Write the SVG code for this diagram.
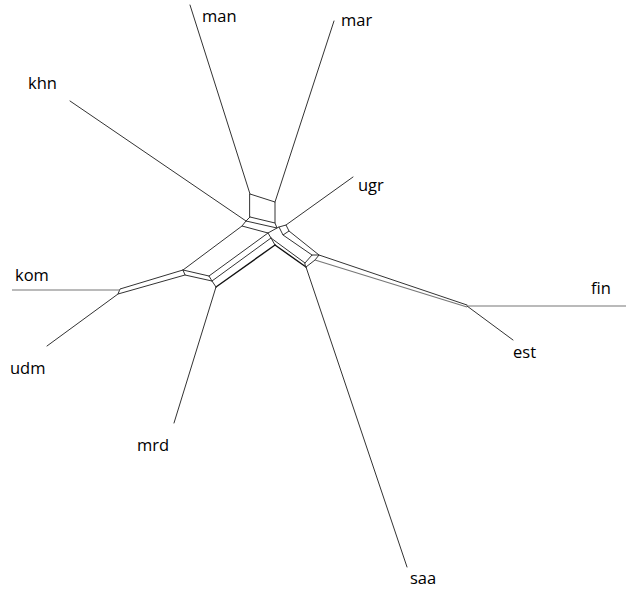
<svg xmlns="http://www.w3.org/2000/svg" width="630" height="595" viewBox="0 0 630 595">
  <style>
    .e { stroke: #333; stroke-width: 1; fill: none; stroke-linecap: round; }
    .d { stroke: #111; stroke-width: 1.4; fill: none; stroke-linecap: round; }
    .g { stroke: #777; stroke-width: 1.2; fill: none; }
    .lbl { font-family: "Open Sans", "Noto Sans", sans-serif; font-size: 16.5px; fill: #000; }
  </style>
  <rect width="630" height="595" fill="#fff"/>

  <!-- network edges -->
  <g id="edges">
    <!-- man / mar box -->
    <path class="e" d="M250,194 L275,202 L275,223 L250,217 Z"/>
    <path class="e" d="M250,217 L246,221 L277,228 L275,223"/>
    <path class="e" d="M246,221 L242,226 L268,233 L277,228"/>
    <!-- ugr diamond -->
    <path class="e" d="M277,228 L279,227 L286,225 L289,231 L283,235 L279,227"/>
    <!-- lower-left band towards kom / udm / mrd -->
    <path class="e" d="M242,226 L183,270"/>
    <path class="e" d="M268,233 L209,276"/>
    <path class="e" d="M271,238 L212,281"/>
    <path class="d" d="M275,245 L216,287"/>
    <path class="e" d="M268,233 L271,238 L275,245"/>
    <path class="e" d="M183,270 L209,276 L212,281 L216,287"/>
    <path class="e" d="M183,270 L185,275 L212,281"/>
    <!-- kom / udm band -->
    <path class="e" d="M183,270 L120,289 L118,294 L185,275"/>
    <!-- band towards saa / fin / est -->
    <path class="e" d="M283,235 L312,255"/>
    <path class="e" d="M289,231 L319,255"/>
    <path class="e" d="M271,238 L305,263"/>
    <path class="d" d="M275,245 L306,267"/>
    <path class="e" d="M305,263 L312,255 L319,255 L315,260 L306,267 Z"/>
    <!-- fin / est band -->
    <path class="e" d="M319,255 L467,305"/>
    <path class="g" d="M315,260 L467,307"/>
  </g>

  <!-- leaves -->
  <g id="man"><path class="e" d="M190,5 L250,194"/><text class="lbl" x="202" y="22">man</text></g>
  <g id="mar"><path class="e" d="M334,21 L275,202"/><text class="lbl" x="341" y="26">mar</text></g>
  <g id="khn"><path class="e" d="M70,101 L246,221"/><text class="lbl" x="28" y="89">khn</text></g>
  <g id="ugr"><path class="e" d="M353,177 L286,225"/><text class="lbl" x="358" y="191">ugr</text></g>
  <g id="kom"><path class="g" d="M12,290 L120,290"/><text class="lbl" x="15" y="281">kom</text></g>
  <g id="udm"><path class="e" d="M47,346 L118,294"/><text class="lbl" x="10" y="374">udm</text></g>
  <g id="mrd"><path class="e" d="M174,423 L216,287"/><text class="lbl" x="137" y="451">mrd</text></g>
  <g id="saa"><path class="e" d="M407,567 L306,267"/><text class="lbl" x="410" y="584">saa</text></g>
  <g id="fin"><path class="g" d="M467,306 L626,306"/><text class="lbl" x="591" y="294">fin</text></g>
  <g id="est"><path class="e" d="M513,340 L467,306"/><text class="lbl" x="513" y="358">est</text></g>
</svg>
